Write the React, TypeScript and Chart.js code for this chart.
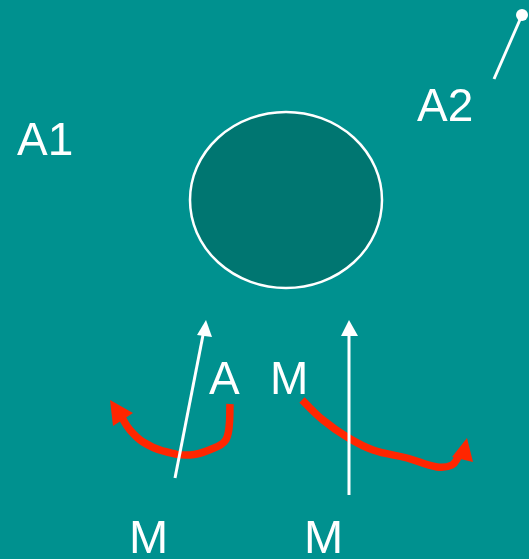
import React, { useEffect, useRef } from "react";
import { Chart, registerables } from "chart.js";

Chart.register(...registerables);

// Diagram space: 529 x 559 units (y grows downward)
const circleCenter = [286, 200];
const circleRadii = [96, 88];

const labelTexts = ["A1", "A2", "A", "M", "M", "M"];
const labelX = [17, 417, 209, 270, 129, 304];
const labelY = [155, 121, 394, 394, 553, 553];
const labelSizes = [46, 46, 46, 46, 47, 47];

const pinLine = [
  { x: 494, y: 79 },
  { x: 522, y: 15 },
];
const pinDot = [{ x: 522, y: 15 }];

const whiteShaft1 = [
  { x: 175, y: 478 },
  { x: 204, y: 330 },
];
const whiteHead1 = [
  { x: 206, y: 320 },
  { x: 197, y: 335 },
  { x: 212, y: 337 },
];
const whiteShaft2 = [
  { x: 349, y: 495 },
  { x: 349, y: 332 },
];
const whiteHead2 = [
  { x: 349, y: 320 },
  { x: 341, y: 336 },
  { x: 358, y: 336 },
];

const redCurve1 = [
  { x: 230, y: 404 },
  { x: 229, y: 428 },
  { x: 225, y: 441 },
  { x: 214, y: 448 },
  { x: 190, y: 455 },
  { x: 163, y: 451 },
  { x: 143, y: 442 },
  { x: 130, y: 430 },
  { x: 121, y: 416 },
];
const redHead1 = [
  { x: 110, y: 400 },
  { x: 113, y: 426 },
  { x: 133, y: 413 },
];
const redCurve2 = [
  { x: 302, y: 400 },
  { x: 323, y: 420 },
  { x: 347, y: 437 },
  { x: 373, y: 450 },
  { x: 407, y: 458 },
  { x: 437, y: 467 },
  { x: 452, y: 465 },
  { x: 459, y: 456 },
];
const redHead2 = [
  { x: 467, y: 438 },
  { x: 452, y: 457 },
  { x: 473, y: 462 },
];

const BG = "#00918f";
const CIRCLE = "#007671";
const RED = "#ff2600";
const WHITE = "#ffffff";

export default function App() {
  const ref = useRef<HTMLCanvasElement | null>(null);

  useEffect(() => {
    document.body.style.margin = "0";
    document.body.style.background = BG;
    const canvas = ref.current!;

    const bgPlugin = {
      id: "bg",
      beforeDraw(chart: any) {
        const { ctx, width, height } = chart;
        ctx.save();
        ctx.fillStyle = BG;
        ctx.fillRect(0, 0, width, height);
        ctx.restore();
      },
    };

    const shapesPlugin = {
      id: "shapes",
      beforeDatasetsDraw(chart: any) {
        const { ctx } = chart;
        const xs = chart.scales.x;
        const ys = chart.scales.y;
        const cx = xs.getPixelForValue(circleCenter[0]);
        const cy = ys.getPixelForValue(circleCenter[1]);
        const rx = Math.abs(xs.getPixelForValue(circleCenter[0] + circleRadii[0]) - cx);
        const ry = Math.abs(ys.getPixelForValue(circleCenter[1] + circleRadii[1]) - cy);
        ctx.save();
        ctx.beginPath();
        ctx.ellipse(cx, cy, rx, ry, 0, 0, Math.PI * 2);
        ctx.fillStyle = CIRCLE;
        ctx.fill();
        ctx.lineWidth = 2.5;
        ctx.strokeStyle = WHITE;
        ctx.stroke();
        ctx.restore();
      },
      afterDatasetsDraw(chart: any) {
        const { ctx } = chart;
        const xs = chart.scales.x;
        const ys = chart.scales.y;
        const poly = (pts: { x: number; y: number }[], color: string) => {
          ctx.beginPath();
          pts.forEach((p, i) => {
            const px = xs.getPixelForValue(p.x);
            const py = ys.getPixelForValue(p.y);
            if (i === 0) ctx.moveTo(px, py);
            else ctx.lineTo(px, py);
          });
          ctx.closePath();
          ctx.fillStyle = color;
          ctx.fill();
        };
        ctx.save();
        poly(whiteHead1, WHITE);
        poly(whiteHead2, WHITE);
        poly(redHead1, RED);
        poly(redHead2, RED);
        ctx.fillStyle = WHITE;
        ctx.textBaseline = "alphabetic";
        ctx.textAlign = "left";
        labelTexts.forEach((t, i) => {
          ctx.font = `${labelSizes[i]}px "Liberation Sans", Arial, sans-serif`;
          ctx.fillText(t, xs.getPixelForValue(labelX[i]), ys.getPixelForValue(labelY[i]));
        });
        ctx.restore();
      },
    };

    const line = (data: any[], color: string, width: number, tension = 0) => ({
      data,
      showLine: true,
      borderColor: color,
      borderWidth: width,
      pointRadius: 0,
      tension,
      borderCapStyle: "butt",
      borderJoinStyle: "round",
    });

    const chart = new Chart(canvas, {
      type: "scatter",
      data: {
        datasets: [
          line(whiteShaft1, WHITE, 3),
          line(whiteShaft2, WHITE, 3),
          line(pinLine, WHITE, 3),
          {
            data: pinDot,
            pointRadius: 6,
            backgroundColor: WHITE,
            borderWidth: 0,
          },
          line(redCurve1, RED, 7.5, 0.4),
          line(redCurve2, RED, 7.5, 0.4),
        ] as any,
      },
      options: {
        animation: false,
        responsive: false,
        events: [],
        layout: { padding: 0, autoPadding: false },
        plugins: { legend: { display: false }, tooltip: { enabled: false } },
        scales: {
          x: { type: "linear", min: 0, max: 529, display: false },
          y: { type: "linear", min: 0, max: 559, reverse: true, display: false },
        },
      },
      plugins: [bgPlugin, shapesPlugin],
    });
    return () => chart.destroy();
  }, []);

  return (
    <div style={{ position: "fixed", left: 0, top: 0, width: 529, height: 559, background: BG }}>
      <canvas ref={ref} width={529} height={559} style={{ width: 529, height: 559, display: "block" }} />
    </div>
  );
}
